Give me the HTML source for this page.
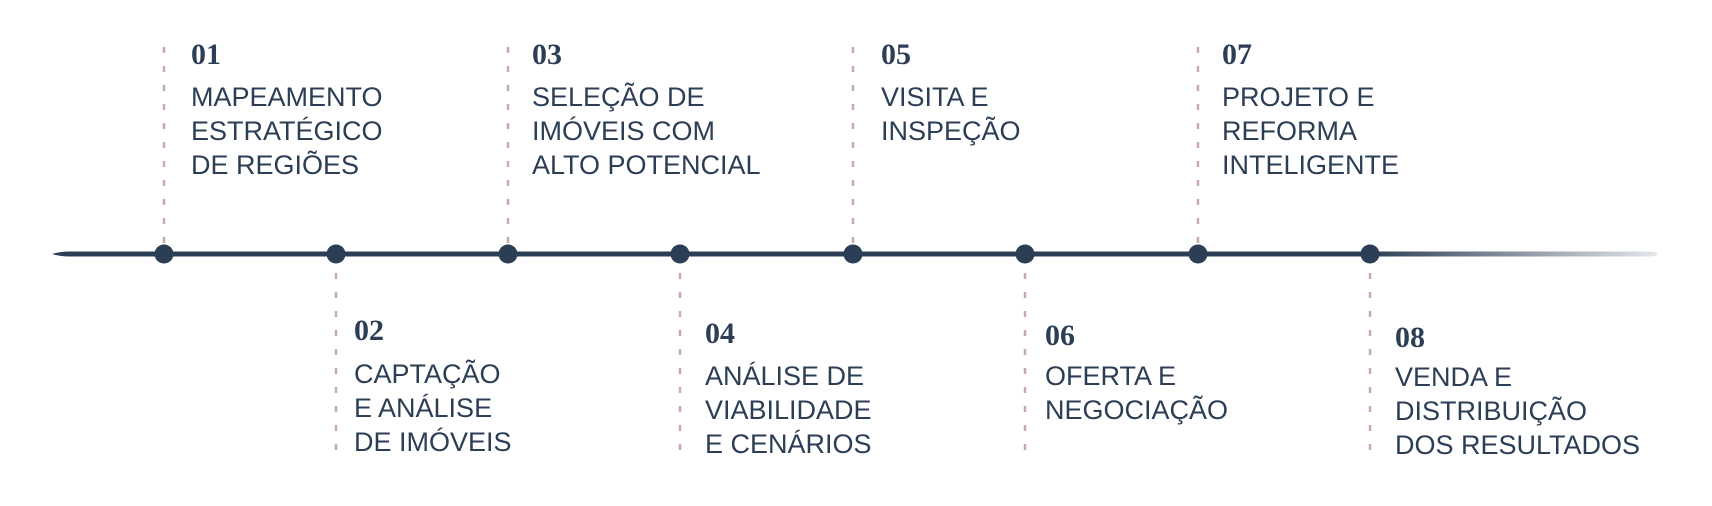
<!DOCTYPE html>
<html><head><meta charset="utf-8"><style>
html,body{margin:0;padding:0;background:#fff;width:1712px;height:506px;overflow:hidden}
.t{font-family:"Liberation Sans",sans-serif;font-size:27px;fill:#2c3e55}
.n{font-family:"Liberation Serif",serif;font-weight:bold;font-size:30px;fill:#2c3e55}
</style></head><body>
<svg width="1712" height="506" viewBox="0 0 1712 506" xmlns="http://www.w3.org/2000/svg">
<defs><linearGradient id="g" x1="52" y1="0" x2="1658" y2="0" gradientUnits="userSpaceOnUse">
<stop offset="0" stop-color="#2c3e55"/><stop offset="0.82" stop-color="#2c3e55"/><stop offset="1" stop-color="#2c3e55" stop-opacity="0.12"/></linearGradient></defs>
<g stroke="#c9aaa7" stroke-width="2.5" stroke-dasharray="6 13">
<line x1="164" y1="47" x2="164" y2="254"/><line x1="508" y1="47" x2="508" y2="254"/>
<line x1="853" y1="47" x2="853" y2="254"/><line x1="1198" y1="47" x2="1198" y2="254"/>
<line x1="336" y1="254" x2="336" y2="460"/><line x1="680" y1="254" x2="680" y2="460"/>
<line x1="1025" y1="254" x2="1025" y2="460"/><line x1="1370" y1="254" x2="1370" y2="460"/>
</g>
<path d="M52 254 Q60 251.5 70 251.5 L1650 251.5 Q1658 252 1658 254 Q1658 256 1650 256.5 L70 256.5 Q60 256.5 52 254Z" fill="url(#g)"/>
<g fill="#2c3e55">
<circle cx="164" cy="254" r="9.5"/><circle cx="336" cy="254" r="9.5"/><circle cx="508" cy="254" r="9.5"/><circle cx="680" cy="254" r="9.5"/>
<circle cx="853" cy="254" r="9.5"/><circle cx="1025" cy="254" r="9.5"/><circle cx="1198" cy="254" r="9.5"/><circle cx="1370" cy="254" r="9.5"/>
</g>
<text class="n" x="191" y="64">01</text>
<text class="t" x="191" y="106">MAPEAMENTO</text><text class="t" x="191" y="140">ESTRATÉGICO</text><text class="t" x="191" y="174">DE REGIÕES</text>
<text class="n" x="532" y="64">03</text>
<text class="t" x="532" y="106">SELEÇÃO DE</text><text class="t" x="532" y="140">IMÓVEIS COM</text><text class="t" x="532" y="174">ALTO POTENCIAL</text>
<text class="n" x="881" y="64">05</text>
<text class="t" x="881" y="106">VISITA E</text><text class="t" x="881" y="140">INSPEÇÃO</text>
<text class="n" x="1222" y="64">07</text>
<text class="t" x="1222" y="106">PROJETO E</text><text class="t" x="1222" y="140">REFORMA</text><text class="t" x="1222" y="174">INTELIGENTE</text>
<text class="n" x="354" y="340">02</text>
<text class="t" x="354" y="383">CAPTAÇÃO</text><text class="t" x="354" y="417">E ANÁLISE</text><text class="t" x="354" y="451">DE IMÓVEIS</text>
<text class="n" x="705" y="343">04</text>
<text class="t" x="705" y="385">ANÁLISE DE</text><text class="t" x="705" y="419">VIABILIDADE</text><text class="t" x="705" y="453">E CENÁRIOS</text>
<text class="n" x="1045" y="345">06</text>
<text class="t" x="1045" y="385">OFERTA E</text><text class="t" x="1045" y="419">NEGOCIAÇÃO</text>
<text class="n" x="1395" y="347">08</text>
<text class="t" x="1395" y="386">VENDA E</text><text class="t" x="1395" y="420">DISTRIBUIÇÃO</text><text class="t" x="1395" y="454">DOS RESULTADOS</text>
</svg>
</body></html>
